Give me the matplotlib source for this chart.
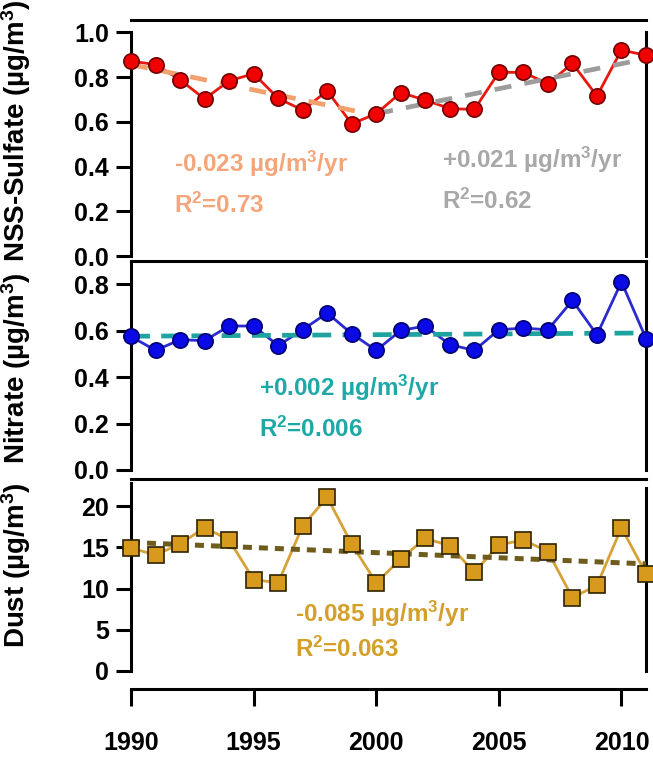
import matplotlib
matplotlib.use("Agg")
import matplotlib.pyplot as plt
import numpy as np

plt.rcParams['font.family'] = ['Liberation Sans', 'DejaVu Sans']
plt.rcParams['font.weight'] = 'bold'
plt.rcParams['mathtext.fontset'] = 'custom'
plt.rcParams['mathtext.rm'] = 'Liberation Sans:bold'
plt.rcParams['mathtext.it'] = 'Liberation Sans:bold'
plt.rcParams['mathtext.bf'] = 'Liberation Sans:bold'

years = list(range(1990, 2012))
sulfate = [0.871, 0.856, 0.788, 0.702, 0.783, 0.815, 0.705, 0.652, 0.738, 0.591, 0.636,
           0.730, 0.697, 0.659, 0.655, 0.821, 0.821, 0.770, 0.861, 0.715, 0.921, 0.897]
nitrate = [0.575, 0.515, 0.561, 0.557, 0.620, 0.620, 0.536, 0.604, 0.676, 0.587, 0.515,
           0.601, 0.620, 0.540, 0.515, 0.604, 0.611, 0.604, 0.730, 0.582, 0.810, 0.566]
dust = [14.9, 14.1, 15.4, 17.4, 15.9, 11.1, 10.7, 17.6, 21.1, 15.4, 10.7,
        13.6, 16.1, 15.2, 12.0, 15.3, 15.9, 14.5, 8.9, 10.4, 17.4, 11.8]

sulf_trend1_x = [1990, 2000]
sulf_trend1_y = [0.856, 0.629]
sulf_trend2_x = [2000, 2011]
sulf_trend2_y = [0.636, 0.882]
nit_trend_x = [1990, 2011]
nit_trend_y = [0.576, 0.590]
dust_trend_x = [1990, 2011]
dust_trend_y = [15.6, 13.0]

xticks = [1990, 1995, 2000, 2005, 2010]
sulf_yticks = [0.0, 0.2, 0.4, 0.6, 0.8, 1.0]
nit_yticks = [0.0, 0.2, 0.4, 0.6, 0.8]
dust_yticks = [0, 5, 10, 15, 20]

W, H = 653, 766
fig = plt.figure(figsize=(W / 100, H / 100), dpi=100)

def make_ax(top_px, bot_px):
    left, right = 131, 646
    return fig.add_axes([left / W, 1 - bot_px / H, (right - left) / W, (bot_px - top_px) / H])

ax1 = make_ax(20, 256)
ax2 = make_ax(261, 470)
ax3 = make_ax(479, 671)

TICK_FS = 18
ANN_FS = 17.5
LAB_FS = 20
LBL_X = -0.19
for ax in (ax1, ax2, ax3):
    ax.set_xlim(1990, 2011)
    ax.spines['bottom'].set_visible(False)
    for s in ('top', 'left', 'right'):
        ax.spines[s].set_linewidth(2.2)
    ax.tick_params(axis='y', direction='out', length=11, width=2.2, labelsize=TICK_FS, pad=5, right=False)
    ax.tick_params(axis='x', bottom=False, labelbottom=False)

# Sulfate
ax1.set_ylim(0, 1.055)
ax1.set_yticks(sulf_yticks)
ax1.set_yticklabels([f"{v:.1f}" for v in sulf_yticks], fontweight='bold')
ax1.spines['left'].set_bounds(0, 1.0)
ax1.spines['right'].set_bounds(0, 1.0)
ax1.plot(years, sulfate, color='#E8180E', lw=2.0, zorder=2, clip_on=False)
ax1.plot(sulf_trend1_x, sulf_trend1_y, color='#F2A06E', lw=3.4, dashes=(3.6, 2.8), zorder=3)
ax1.plot(sulf_trend2_x, sulf_trend2_y, color='#9C9C9C', lw=3.4, dashes=(3.6, 2.8), zorder=3)
ax1.plot(years, sulfate, ls='none', marker='o', ms=11, mfc='#F00000', mec='#700000', mew=1.2,
         zorder=4, clip_on=False)
ax1.text(1991.75, 0.41, r'-0.023 µg/m$^{3}$/yr', color='#F4A57A', fontsize=ANN_FS, fontweight='bold', va='center')
ax1.text(1991.75, 0.225, r'R$^{2}$=0.73', color='#F4A57A', fontsize=ANN_FS, fontweight='bold', va='center')
ax1.text(2002.7, 0.43, r'+0.021 µg/m$^{3}$/yr', color='#A8A8A8', fontsize=ANN_FS, fontweight='bold', va='center')
ax1.text(2002.7, 0.245, r'R$^{2}$=0.62', color='#A8A8A8', fontsize=ANN_FS, fontweight='bold', va='center')
ax1.set_ylabel(r'NSS-Sulfate (µg/m$^{3}$)', fontsize=LAB_FS, fontweight='bold')
ax1.yaxis.set_label_coords(LBL_X, 0.53)

# Nitrate
ax2.set_ylim(0, 0.90)
ax2.set_yticks(nit_yticks)
ax2.set_yticklabels([f"{v:.1f}" for v in nit_yticks], fontweight='bold')
ax2.spines['left'].set_bounds(0, 0.90)
ax2.plot(years, nitrate, color='#2A2AD0', lw=2.0, zorder=2, clip_on=False)
ax2.plot(nit_trend_x, nit_trend_y, color='#1EA3A0', lw=3.4, dashes=(4, 2.4), zorder=3)
ax2.plot(years, nitrate, ls='none', marker='o', ms=11, mfc='#0A0AE6', mec='#000070', mew=1.2,
         zorder=4, clip_on=False)
ax2.text(1995.2, 0.355, r'+0.002 µg/m$^{3}$/yr', color='#1FA8A8', fontsize=ANN_FS, fontweight='bold', va='center')
ax2.text(1995.2, 0.175, r'R$^{2}$=0.006', color='#1FA8A8', fontsize=ANN_FS, fontweight='bold', va='center')
ax2.set_ylabel(r'Nitrate (µg/m$^{3}$)', fontsize=LAB_FS, fontweight='bold')
ax2.yaxis.set_label_coords(LBL_X, 0.49)

# Dust
ax3.set_ylim(0, 23.3)
ax3.set_yticks(dust_yticks)
ax3.set_yticklabels([str(v) for v in dust_yticks], fontweight='bold')
ax3.spines['left'].set_bounds(0, 22.8)
ax3.spines['right'].set_bounds(0, 22.2)
ax3.plot(years, dust, color='#D6A238', lw=2.0, zorder=2, clip_on=False)
ax3.plot(dust_trend_x, dust_trend_y, color='#6E5C1E', lw=3.6, dashes=(1.8, 1.4), zorder=3)
ax3.plot(years, dust, ls='none', marker='s', ms=11, mfc='#D89A1C', mec='#2E2200', mew=1.2,
         zorder=4, clip_on=False)
ax3.text(1996.7, 6.9, r'-0.085 µg/m$^{3}$/yr', color='#D4A02A', fontsize=ANN_FS, fontweight='bold', va='center')
ax3.text(1996.7, 2.6, r'R$^{2}$=0.063', color='#D4A02A', fontsize=ANN_FS, fontweight='bold', va='center')
ax3.set_ylabel(r'Dust (µg/m$^{3}$)', fontsize=LAB_FS, fontweight='bold')
ax3.yaxis.set_label_coords(LBL_X, 0.55)

# Bottom axis (offset)
ax3.spines['bottom'].set_visible(True)
ax3.spines['bottom'].set_linewidth(2.2)
ax3.spines['bottom'].set_position(('outward', 13))
ax3.set_xticks(xticks)
ax3.set_xticklabels([str(v) for v in xticks], fontweight='bold')
ax3.tick_params(axis='x', bottom=True, labelbottom=True, direction='out', length=12, width=2.2,
                labelsize=TICK_FS, pad=18)

fig.savefig('out.png', dpi=100)
